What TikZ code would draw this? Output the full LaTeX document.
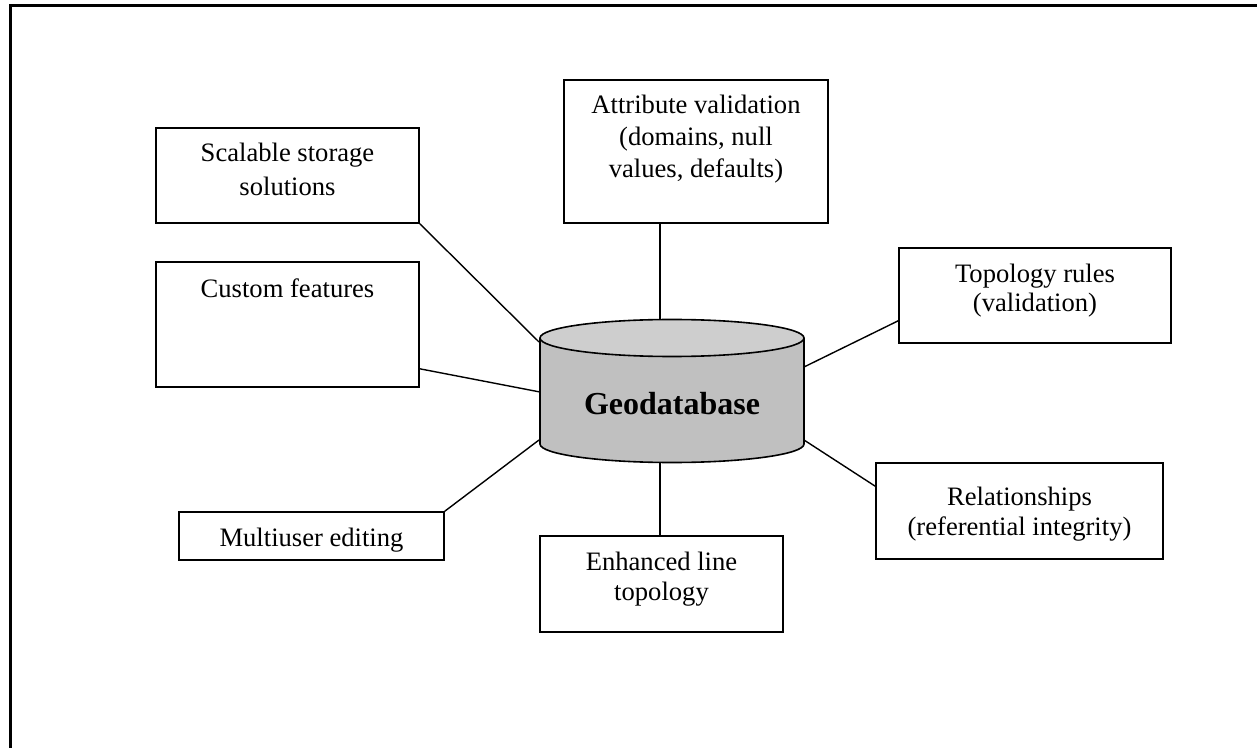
\documentclass[tikz,border=0pt]{standalone}
\usepackage{fontspec}
\setmainfont{Liberation Serif}
\usetikzlibrary{calc}

\definecolor{dbbody}{RGB}{192,192,192}
\definecolor{dbtop}{RGB}{206,206,206}

% text of a box: width, height, top gap, lines (first line set with a strut)
\newcommand{\boxtext}[5][15pt]{%
  \parbox[c][#3][t]{#2}{\fontsize{13.3pt}{#1}\selectfont\centering
    \vspace*{#4}\strut #5}}

\tikzset{
  featbox/.style={draw, line width=0.8pt, inner sep=0pt, fill=white},
  link/.style={line width=0.7pt},
  dbline/.style={line width=0.8pt}
}

\begin{document}
\begin{tikzpicture}[x=0.5pt,y=-0.5pt]
  \useasboundingbox (0,0) rectangle (1257,748);
  \fill[white] (0,0) rectangle (1257,748);
  \draw[line width=1.5pt] (10,748) -- (10,6) -- (1257,6);

  %Cylinder
  \fill[dbbody] (540,338) rectangle (804,444);
  \fill[dbbody] (672,444) ellipse [x radius=132, y radius=18.5];
  \begin{scope}
    \clip (530,444) rectangle (814,472);
    \draw[dbline] (672,444) ellipse [x radius=132, y radius=18.5];
  \end{scope}
  \draw[dbline] (540,338) -- (540,444) (804,338) -- (804,444);
  \filldraw[dbline, fill=dbtop] (672,338) ellipse [x radius=132, y radius=18.5];

  \coordinate (dbTL) at (539,342);
  \coordinate (dbT)  at (660,320);
  \coordinate (dbR1) at (804,367);
  \coordinate (dbL)  at (540,392);
  \coordinate (dbBL) at (539,440);
  \coordinate (dbB)  at (660,462);
  \coordinate (dbR2) at (804,440);

  %Nodes
  \node at (672,415) [anchor=base] (geo)
    {\fontsize{16pt}{19pt}\selectfont\bfseries Geodatabase};
  \node[featbox] at (287.5,175.5) (scal)
    {\boxtext[17pt]{131.5pt}{47.5pt}{5.1pt}{Scalable storage\\solutions}};
  \node[featbox] at (696,151.5)   (attr)
    {\boxtext[16pt]{132pt}{71.5pt}{5.8pt}{Attribute validation\\(domains, null\\values, defaults)}};
  \node[featbox] at (1035,295.5)  (topo)
    {\boxtext{136pt}{47.5pt}{6.5pt}{Topology rules\\(validation)}};
  \node[featbox] at (287.5,324.5) (cust)
    {\boxtext{131.5pt}{62.5pt}{7pt}{Custom features}};
  \node[featbox] at (311.5,536)   (mult)
    {\boxtext{132.5pt}{24pt}{6.5pt}{Multiuser editing}};
  \node[featbox] at (661.5,584)   (enh)
    {\boxtext{121.5pt}{48pt}{6.5pt}{Enhanced line\\topology}};
  \node[featbox] at (1019.5,511)  (rel)
    {\boxtext{143.5pt}{48pt}{10.5pt}{Relationships\\(referential integrity)}};

  %Lines
  \draw[link] (scal.south east) -- (dbTL);
  \draw[link] (attr.south -| dbT) -- (dbT);
  \draw[link] ($(topo.south west)+(0,-23)$) -- (dbR1);
  \draw[link] ($(cust.south east)+(0,-19)$) -- (dbL);
  \draw[link] (mult.north east) -- (dbBL);
  \draw[link] (dbB) -- (dbB |- enh.north);
  \draw[link] (dbR2) -- ($(rel.north west)+(0,24)$);
\end{tikzpicture}
\end{document}
